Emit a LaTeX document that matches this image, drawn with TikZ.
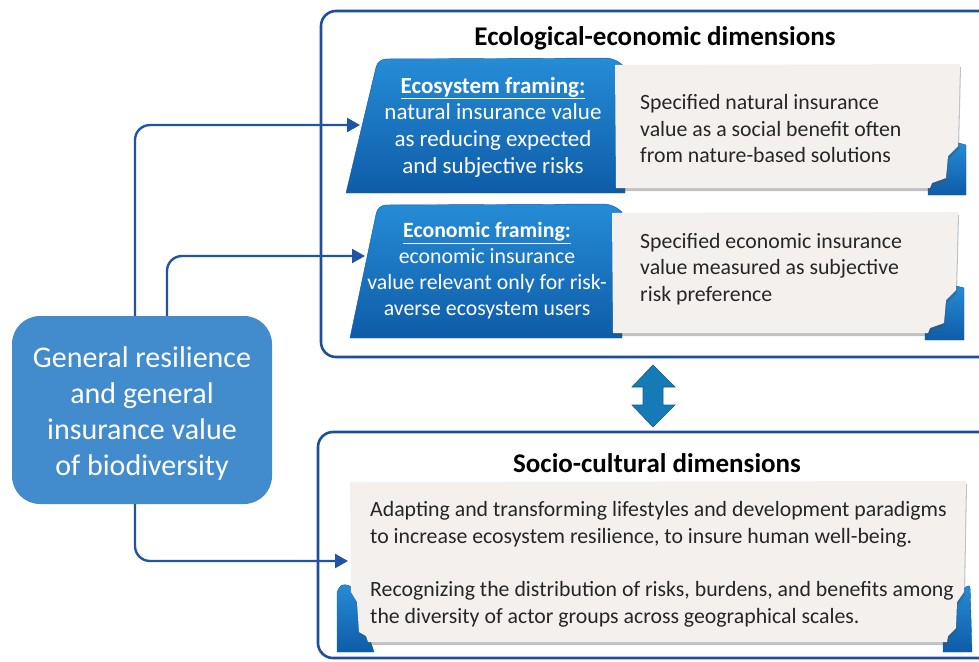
\documentclass[tikz,border=0pt]{standalone}
\usepackage{fontspec}
\setmainfont{Carlito}
\usetikzlibrary{shadows,arrows.meta}
\definecolor{linkblue}{RGB}{33,84,163}
\definecolor{frameblue}{RGB}{30,78,155}
\definecolor{genblue}{RGB}{66,139,204}
\definecolor{ribtop}{RGB}{38,140,214}
\definecolor{ribbot}{RGB}{14,92,168}
\definecolor{cardfill}{RGB}{244,240,238}
\definecolor{dblue}{RGB}{22,122,183}
\definecolor{dblueline}{RGB}{16,90,145}
\tikzset{
  outerbox/.style={draw=frameblue, line width=2.6pt, rounded corners=15pt},
  link/.style={draw=linkblue, line width=2.4pt, rounded corners=15pt, -{Triangle[length=13pt,width=14pt]}},
  genbox/.style={fill=genblue, rounded corners=28pt, minimum width=260pt, minimum height=188pt,
     text=white, align=center, inner sep=0pt},
  ribbon/.style={top color=ribtop, bottom color=ribbot, draw=ribbot, line width=0.4pt},
  card/.style={fill=cardfill, drop shadow={shadow xshift=1pt, shadow yshift=-3pt, opacity=0.35, fill=black!70}},
  ribtext/.style={text=white, align=center, inner sep=0pt, font=\fontsize{23}{26.7}\selectfont},
  cardtext/.style={text=black!85, align=left, anchor=west, inner sep=0pt, font=\fontsize{21.8}{26.5}\selectfont},
  titletext/.style={inner sep=0pt, anchor=base, font=\fontsize{27}{30}\selectfont\bfseries},
}
\begin{document}
\begin{tikzpicture}[x=1pt,y=-1pt]
\useasboundingbox (0,0) rectangle (979,661);
\clip (0,0) rectangle (979,661);

% outer boxes
\draw[outerbox] (321,11) rectangle (1000,357);
\draw[outerbox] (318,432) rectangle (1000,658);

\node[titletext] (t1) at (655,46) {Ecological-economic dimensions};
\node[titletext] (t2) at (657,472) {Socio-cultural dimensions};

% ribbon 1 and card 1
\path[ribbon] (346,193) [rounded corners=8pt] -- (378,59) -- (614,58) [sharp corners] -- (625,67) -- (625,193) -- cycle;
\path[ribbon] (955,142) -- (966,145) -- (966,195) -- (928,195) -- (928,186) -- cycle;
\path[card] (615,65) -- (960,64) -- (958,146) -- (948,156) -- (946,178) -- (932,183) -- (930,188) -- (616,188) -- cycle;
\node[ribtext] (r1) at (493,127) {\underline{\textbf{Ecosystem framing:}}\\natural insurance value\\as reducing expected\\and subjective risks};
\node[cardtext] (c1) at (640,129) {Specified natural insurance\\value as a social benefit often\\from nature-based solutions};
\coordinate (r1in) at (360,125);

% ribbon 2 and card 2
\path[ribbon] (350,338) [rounded corners=8pt] -- (378,205) -- (612,204) [sharp corners] -- (622,212) -- (622,338) -- cycle;
\path[ribbon] (952,285) -- (964,288) -- (964,340) -- (925,340) -- (925,331) -- cycle;
\path[card] (612,213) -- (958,212) -- (956,290) -- (946,300) -- (944,323) -- (930,328) -- (928,333) -- (613,333) -- cycle;
\node[ribtext, font=\fontsize{21.8}{26}\selectfont] (r2) at (487,271) {\underline{\textbf{Economic framing:}}\\economic insurance\\value relevant only for risk-\\averse ecosystem users};
\node[cardtext] (c2) at (640,269) {Specified economic insurance\\value measured as subjective\\risk preference};
\coordinate (r2in) at (365,256);

% bottom card
\path[ribbon] (337,652) -- (337,592) [rounded corners=4pt] -- (341,584) -- (352,586) [sharp corners] -- (374,652) -- cycle;
\path[ribbon] (943,652) -- (943,640) -- (962,590) [rounded corners=4pt] -- (970,584) [sharp corners] -- (972,652) -- cycle;
\path[card] (350,482) -- (966,481) -- (964,592) -- (957,602) -- (956,628) -- (948,636) -- (947,642)
   -- (368,642) -- (366,636) -- (359,632) -- (357,602) -- (351,592) -- cycle;
\node[cardtext, font=\fontsize{21.8}{27}\selectfont] (c3a) at (370,524) {Adapting and transforming lifestyles and development paradigms\\to increase ecosystem resilience, to insure human well-being.};
\node[cardtext, font=\fontsize{21.8}{27}\selectfont] (c3b) at (370,604) {Recognizing the distribution of risks, burdens, and benefits among\\the diversity of actor groups across geographical scales.};
\coordinate (c3in) at (348,561);

% left box
\node[genbox] (lb) at (142,410) {};
\node[text=white, align=center, inner sep=0pt, font=\fontsize{30}{36}\selectfont] (lbt) at (142,413)
  {General resilience\\and general\\insurance value\\of biodiversity};

% connectors
\draw[link] ([xshift=-7pt]lb.north) |- (r1in);
\draw[link] ([xshift=25pt]lb.north) |- (r2in);
\draw[link] ([xshift=-7pt]lb.south) |- (c3in);

% double arrow
\path[fill=dblue, draw=dblueline, line width=0.6pt] (653,365) -- (675,387) -- (663,387) -- (663,405) -- (675,405)
  -- (653,427) -- (632,405) -- (643,405) -- (643,387) -- (632,387) -- cycle;
\end{tikzpicture}
\end{document}
